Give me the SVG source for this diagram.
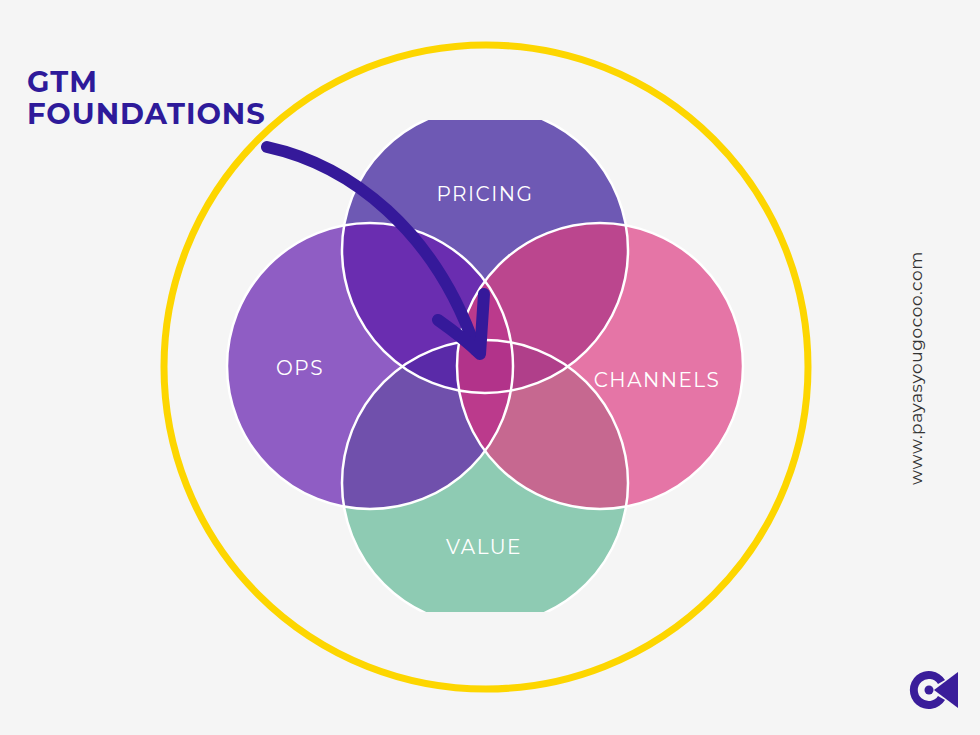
<svg xmlns="http://www.w3.org/2000/svg" width="980" height="735" viewBox="0 0 980 735">
<defs>
<clipPath id="cP"><circle cx="485" cy="250" r="143"/></clipPath>
<clipPath id="cO"><circle cx="370" cy="366" r="143"/></clipPath>
<clipPath id="cC"><circle cx="600" cy="366" r="143"/></clipPath>
<clipPath id="cV"><circle cx="485" cy="483" r="143"/></clipPath>
<clipPath id="cut"><rect x="0" y="120" width="980" height="492"/></clipPath>
<style>
.lbl{font-family:Montserrat,"Open Sans","Liberation Sans",sans-serif;font-size:20px;fill:#fff;letter-spacing:1.5px;text-anchor:middle}
.ol{fill:none;stroke:#fff;stroke-width:2.5}
.arr{fill:none;stroke:#35199a;stroke-width:12;stroke-linecap:round;stroke-linejoin:round}
</style>
</defs>
<rect width="980" height="735" fill="#f5f5f5"/>
<circle cx="486" cy="367" r="322" fill="none" stroke="#fdd600" stroke-width="7"/>
<g clip-path="url(#cut)">
<g id="pricing"><circle cx="485" cy="250" r="143" fill="#6e59b4"/></g>
<g id="ops"><circle cx="370" cy="366" r="143" fill="#8f5dc4"/></g>
<g id="channels"><circle cx="600" cy="366" r="143" fill="#e575a6"/></g>
<g id="value"><circle cx="485" cy="483" r="143" fill="#8ecbb3"/></g>
<g id="overlaps">
<circle cx="485" cy="250" r="143" fill="#6a2db0" clip-path="url(#cO)"/>
<circle cx="485" cy="250" r="143" fill="#bb468e" clip-path="url(#cC)"/>
<circle cx="485" cy="483" r="143" fill="#7050ac" clip-path="url(#cO)"/>
<circle cx="485" cy="483" r="143" fill="#c66890" clip-path="url(#cC)"/>
<g clip-path="url(#cP)"><circle cx="485" cy="483" r="143" fill="#5a2aa8" clip-path="url(#cO)"/></g>
<g clip-path="url(#cP)"><circle cx="485" cy="483" r="143" fill="#b03f8a" clip-path="url(#cC)"/></g>
<circle cx="370" cy="366" r="143" fill="#bb3a8c" clip-path="url(#cC)"/>
<g clip-path="url(#cC)"><g clip-path="url(#cP)"><circle cx="485" cy="483" r="143" fill="#b2338a" clip-path="url(#cO)"/></g></g>
</g>
<g id="outlines">
<circle class="ol" cx="485" cy="250" r="143"/>
<circle class="ol" cx="370" cy="366" r="143"/>
<circle class="ol" cx="600" cy="366" r="143"/>
<circle class="ol" cx="485" cy="483" r="143"/>
</g>
</g>
<text class="lbl" x="485" y="201">PRICING</text>
<text class="lbl" x="300" y="375">OPS</text>
<text class="lbl" x="657" y="387">CHANNELS</text>
<text class="lbl" x="484" y="554">VALUE</text>
<g id="title" font-family="Montserrat,'Open Sans','Liberation Sans',sans-serif" font-weight="bold" font-size="29" fill="#2e1a9a" letter-spacing="1">
<text x="27" y="92">GTM</text>
<text x="27" y="124">FOUNDATIONS</text>
</g>
<g id="connectors">
<path class="arr" d="M267,147 C350,165 435,230 476,350"/>
<path class="arr" d="M484,294 L480,354 M438,320 C455,332 468,342 480,354"/>
</g>
<text x="918" y="368" transform="rotate(-90 918 368)" text-anchor="middle" dominant-baseline="middle" font-family="Montserrat,'Open Sans','Liberation Sans',sans-serif" font-size="17" fill="#333" letter-spacing="0.6">www.payasyougocoo.com</text>
<g id="logo" fill="#3a1d9a">
<path d="M945,680 A19,19 0 1 0 945,700 L938,696 A11,11 0 1 1 938,684 Z"/>
<circle cx="929" cy="690" r="4.5"/>
<polygon points="958,672 958,708 934,690"/>
</g>
</svg>
